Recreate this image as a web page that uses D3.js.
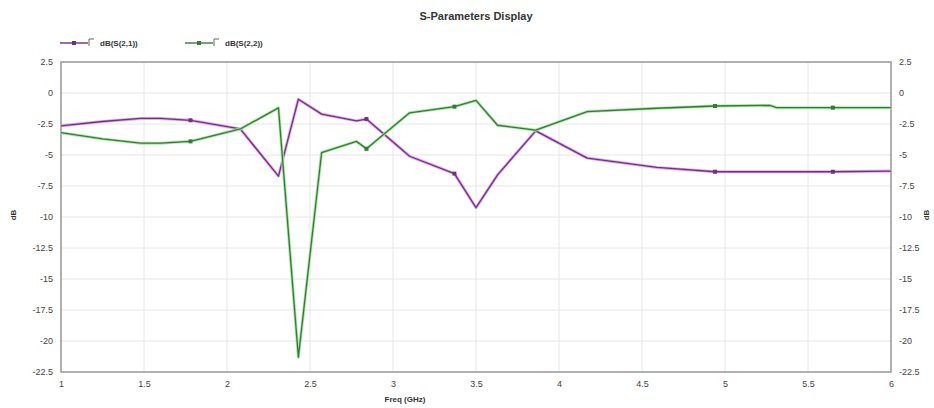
<!DOCTYPE html>
<html><head><meta charset="utf-8">
<script src="https://cdn.jsdelivr.net/npm/d3@7"></script>
<style>
body{margin:0;background:#fff;}
text{font-family:"Liberation Sans",Arial,sans-serif;}
</style></head>
<body><svg id="c" width="934" height="408"></svg>
<script>
const freq = [1.0, 1.25, 1.48, 1.6, 1.78, 2.08, 2.31, 2.43, 2.57, 2.78, 2.84, 3.10, 3.37, 3.50, 3.63, 3.86, 4.17, 4.59, 4.94, 5.27, 5.31, 5.65, 6.0];
const s21 = [-2.65, -2.3, -2.05, -2.05, -2.2, -2.9, -6.7, -0.5, -1.7, -2.25, -2.1, -5.1, -6.5, -9.25, -6.6, -3.05, -5.25, -6.0, -6.35, -6.35, -6.35, -6.35, -6.3];
const s22 = [-3.2, -3.7, -4.05, -4.05, -3.9, -2.9, -1.2, -21.3, -4.8, -3.9, -4.5, -1.6, -1.1, -0.6, -2.6, -3.0, -1.5, -1.23, -1.05, -1.0, -1.18, -1.18, -1.18];
const markerFreqs = [1.78, 2.84, 3.37, 4.94, 5.65];
const xTicks = [1, 1.5, 2, 2.5, 3, 3.5, 4, 4.5, 5, 5.5, 6];
const yTicks = [2.5, 0, -2.5, -5, -7.5, -10, -12.5, -15, -17.5, -20, -22.5];
const seriesNames = ["dB(S(2,1))", "dB(S(2,2))"];
const seriesColors = ["#6e3380", "#357a35"];
const seriesGlow = ["#e3a8ee", "#a8e8a8"];

const svg = d3.select("#c");
const L = 61, R = 891, T = 62, B = 372;
const x = d3.scaleLinear().domain([1, 6]).range([L, R]);
const y = d3.scaleLinear().domain([-22.5, 2.5]).range([B, T]);

// grid
svg.append("g").selectAll("line").data(yTicks).join("line")
  .attr("x1", L).attr("x2", R).attr("y1", d => y(d)).attr("y2", d => y(d))
  .attr("stroke", "#e6e6e6").attr("stroke-width", 1);
svg.append("g").selectAll("line").data(xTicks).join("line")
  .attr("y1", T).attr("y2", B).attr("x1", d => x(d)).attr("x2", d => x(d))
  .attr("stroke", "#e6e6e6").attr("stroke-width", 1);

// frame
svg.append("rect").attr("x", L).attr("y", T).attr("width", R - L).attr("height", B - T)
  .attr("fill", "none").attr("stroke", "#9a9a9a").attr("stroke-width", 1.5);

// axes
const fmt = d => String(d);
const ax = svg.append("g").attr("transform", `translate(0,${B})`)
  .call(d3.axisBottom(x).tickValues(xTicks).tickFormat(fmt).tickSize(0).tickPadding(9));
const ayl = svg.append("g").attr("transform", `translate(${L},0)`)
  .call(d3.axisLeft(y).tickValues(yTicks).tickFormat(fmt).tickSize(0).tickPadding(8));
const ayr = svg.append("g").attr("transform", `translate(${R},0)`)
  .call(d3.axisRight(y).tickValues(yTicks).tickFormat(fmt).tickSize(0).tickPadding(8));
[ax, ayl, ayr].forEach(g => {
  g.select(".domain").remove();
  g.selectAll("text").attr("fill", "#444").style("font-size", "9px");
});

// lines
const series = [s21, s22];
const line = d3.line().x((d, i) => x(freq[i])).y(d => y(d));
series.forEach((vals, k) => {
  svg.append("path").datum(vals).attr("d", line).attr("fill", "none")
    .attr("stroke", seriesGlow[k]).attr("stroke-width", 3).attr("stroke-linejoin", "round");
  svg.append("path").datum(vals).attr("d", line).attr("fill", "none")
    .attr("stroke", seriesColors[k]).attr("stroke-width", 1.3).attr("stroke-linejoin", "round");
  svg.append("g").selectAll("rect").data(markerFreqs).join("rect")
    .attr("x", f => x(f) - 2).attr("y", f => y(vals[freq.indexOf(f)]) - 2)
    .attr("width", 4).attr("height", 4).attr("fill", seriesColors[k]);
});

// title
svg.append("text").attr("x", 476).attr("y", 20).attr("text-anchor", "middle")
  .style("font-size", "11px").style("font-weight", "bold").attr("fill", "#333")
  .text("S-Parameters Display");

// legend
const legX = [60, 185];
seriesNames.forEach((n, k) => {
  const g = svg.append("g").attr("transform", `translate(${legX[k]},43)`);
  g.append("line").attr("x1", 0).attr("x2", 28).attr("y1", 0).attr("y2", 0)
    .attr("stroke", seriesColors[k]).attr("stroke-width", 1.4);
  g.append("rect").attr("x", 12).attr("y", -2).attr("width", 4).attr("height", 4).attr("fill", seriesColors[k]);
  g.append("path").attr("d", "M29,3 V-4 H34").attr("fill", "none").attr("stroke", "#666").attr("stroke-width", 1);
  g.append("text").attr("x", 40).attr("y", 3).style("font-size", "8px").style("font-weight", "bold")
    .attr("fill", "#333").text(n);
});

// axis titles
svg.append("text").attr("x", 405).attr("y", 402).attr("text-anchor", "middle")
  .style("font-size", "8px").style("font-weight", "bold").attr("fill", "#333").text("Freq (GHz)");
svg.append("text").attr("transform", "translate(16,215) rotate(-90)").attr("text-anchor", "middle")
  .style("font-size", "8px").style("font-weight", "bold").attr("fill", "#333").text("dB");
svg.append("text").attr("transform", "translate(929,215) rotate(-90)").attr("text-anchor", "middle")
  .style("font-size", "8px").style("font-weight", "bold").attr("fill", "#333").text("dB");
</script></body></html>
